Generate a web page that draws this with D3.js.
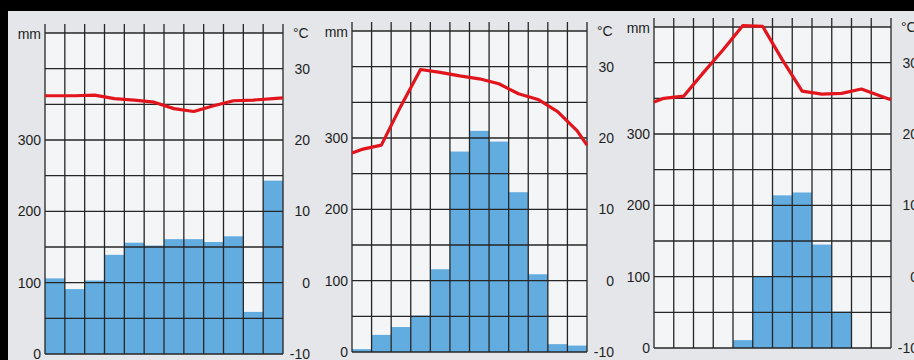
<!DOCTYPE html>
<html>
<head>
<meta charset="utf-8">
<script src="https://cdn.jsdelivr.net/npm/d3@7"></script>
<style>
  body { margin: 0; background: #e4e6ea; }
  svg { display: block; }
</style>
</head>
<body>
<div id="chart"></div>
<script>
// months (not labelled in the picture)
const months = ['Jan', 'Feb', 'Mar', 'Apr', 'May', 'Jun', 'Jul', 'Aug', 'Sep', 'Oct', 'Nov', 'Dec'];

// station 1
const precip1 = [106, 91, 103, 139, 156, 152, 161, 161, 157, 165, 59, 243];
const temp1 = [26.2, 26.2, 26.3, 25.8, 25.6, 25.3, 24.4, 24.0, 24.8, 25.5, 25.6, 25.8];

// station 2
const precip2 = [4, 24, 35, 51, 116, 281, 310, 295, 224, 109, 11, 9];
const temp2 = [18.4, 19.0, 24.5, 29.6, 29.2, 28.7, 28.3, 27.6, 26.2, 25.4, 23.7, 21.0];

// station 3
const precip3 = [0, 0, 0, 0, 11, 101, 214, 218, 145, 51, 0, 0];
const temp3 = [25.0, 25.3, 28.6, 31.8, 35.2, 35.1, 30.4, 26.0, 25.6, 25.7, 26.3, 25.3];

// temperature where the curve meets the left / right frame
const tempStart = [26.2, 17.9, 24.5];
const tempEnd = [25.9, 19.0, 24.8];

// axis ticks
const mmTicks = [0, 100, 200, 300];
const degTicks = [-10, 0, 10, 20, 30];
const mmMax = 450;
const degMin = -10;
const degMax = 35;

const width = 914;
const height = 360;

const svg = d3.select('#chart')
  .append('svg')
  .attr('width', width)
  .attr('height', height);

// page background, dark frame of the photo
svg.append('rect').attr('width', width).attr('height', height).attr('fill', '#e4e6ea');
svg.append('rect').attr('width', width).attr('height', 11).attr('fill', '#000');
svg.append('rect').attr('width', 8).attr('height', height).attr('fill', '#000');

const panels = [
  { left: 45, right: 283, top: 33, bottom: 354, precip: precip1, temp: temp1 },
  { left: 352, right: 587, top: 31, bottom: 352, precip: precip2, temp: temp2 },
  { left: 654, right: 891, top: 27, bottom: 348, precip: precip3, temp: temp3 }
];

const font = '"Liberation Sans", Arial, sans-serif';
const gridColor = '#262626';

panels.forEach((p, k) => {
  const g = svg.append('g');

  const x = d3.scaleBand().domain(months).range([p.left, p.right]).padding(0);
  const yMm = d3.scaleLinear().domain([0, mmMax]).range([p.bottom, p.top]);
  const yT = d3.scaleLinear().domain([degMin, degMax]).range([p.bottom, p.top]);

  // plot paper
  g.append('rect')
    .attr('x', p.left)
    .attr('y', p.top)
    .attr('width', p.right - p.left)
    .attr('height', p.bottom - p.top)
    .attr('fill', '#f4f5f7');

  // precipitation bars
  g.selectAll('rect.bar')
    .data(p.precip)
    .enter()
    .append('rect')
    .attr('class', 'bar')
    .attr('x', (d, i) => x(months[i]))
    .attr('y', d => yMm(d))
    .attr('width', x.bandwidth())
    .attr('height', d => yMm(0) - yMm(d))
    .attr('fill', '#62acdf');

  // horizontal grid every 50 mm
  g.selectAll('line.h')
    .data(d3.range(0, mmMax + 1, 50))
    .enter()
    .append('line')
    .attr('x1', p.left)
    .attr('x2', p.right)
    .attr('y1', d => yMm(d))
    .attr('y2', d => yMm(d))
    .attr('stroke', gridColor)
    .attr('stroke-width', 1.3);

  // vertical month lines, sticking out above the frame
  const edges = months.map(m => x(m)).concat([p.right]);
  g.selectAll('line.v')
    .data(edges)
    .enter()
    .append('line')
    .attr('x1', d => d)
    .attr('x2', d => d)
    .attr('y1', p.top - 9)
    .attr('y2', p.bottom)
    .attr('stroke', gridColor)
    .attr('stroke-width', 1.3);

  // temperature curve
  const pts = [{ x: p.left, t: tempStart[k] }]
    .concat(p.temp.map((t, i) => ({ x: x(months[i]) + x.bandwidth() / 2, t })))
    .concat([{ x: p.right, t: tempEnd[k] }]);

  g.append('path')
    .datum(pts)
    .attr('fill', 'none')
    .attr('stroke', '#e2141c')
    .attr('stroke-width', 3.2)
    .attr('stroke-linejoin', 'round')
    .attr('d', d3.line().x(d => d.x).y(d => yT(d.t)));

  // left axis (mm)
  const left = g.append('g')
    .attr('transform', `translate(${p.left}, 0)`)
    .call(d3.axisLeft(yMm).tickValues(mmTicks).tickSize(0).tickPadding(4));
  left.select('.domain').remove();

  // right axis (°C), plain hyphen for the minus like the print
  const right = g.append('g')
    .attr('transform', `translate(${p.right}, 0)`)
    .call(d3.axisRight(yT).tickValues(degTicks).tickSize(0).tickFormat(d => String(d)));
  right.select('.domain').remove();
  right.selectAll('text').attr('x', 27).attr('text-anchor', 'end');

  g.selectAll('.tick text')
    .style('font-family', font)
    .style('font-size', '14px')
    .attr('fill', '#1e1e1e');

  // unit labels
  g.append('text')
    .attr('x', p.left - 4)
    .attr('y', p.top + 6)
    .attr('text-anchor', 'end')
    .style('font-family', font)
    .style('font-size', '14px')
    .attr('fill', '#1e1e1e')
    .text('mm');

  g.append('text')
    .attr('x', p.right + 10)
    .attr('y', p.top + 5)
    .style('font-family', font)
    .style('font-size', '14px')
    .attr('fill', '#1e1e1e')
    .text('°C');
});
</script>
</body>
</html>
